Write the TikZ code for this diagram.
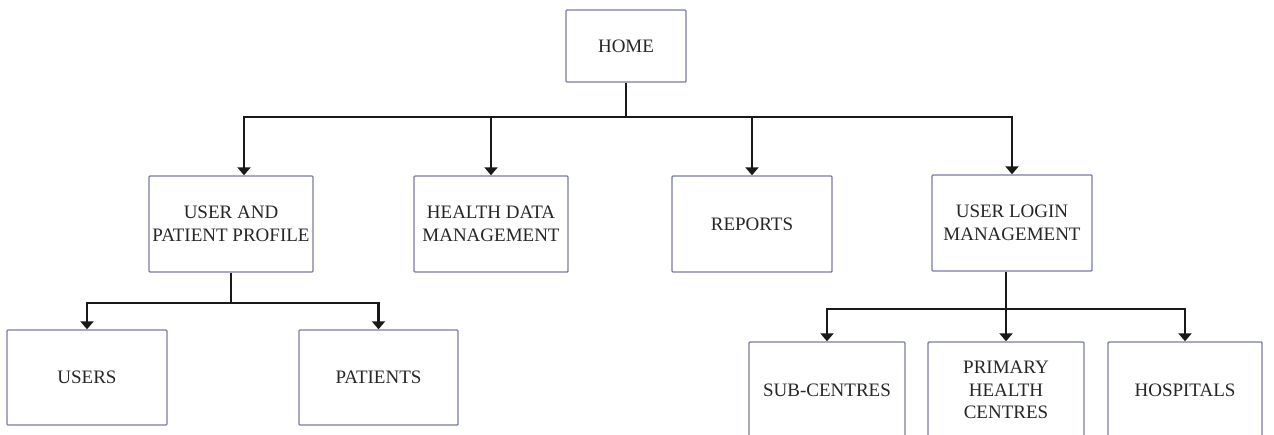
\documentclass[tikz,border=0pt]{standalone}
\usepackage{fontspec}
\setmainfont{Liberation Serif}
\usetikzlibrary{arrows.meta}
\definecolor{boxc}{RGB}{120,125,158}
\begin{document}
\begin{tikzpicture}[x=1pt,y=-1pt,
  box/.style={draw=boxc, line width=1.4pt, rounded corners=1pt, inner sep=0pt, align=center,
    minimum height=96pt, text=black!85, font=\fontsize{19}{22.5}\selectfont},
  conn/.style={line width=2.9pt, draw=black!90},
  arr/.style={conn, -{Triangle[width=13pt,length=8pt]}}]
\clip (0,0) rectangle (1274,434);
\useasboundingbox (0,0) rectangle (1274,434);
\node[box, minimum width=120pt, minimum height=72pt] (home) at (626,46) {HOME};
\node[box, minimum width=164pt] (uapp) at (231,224) {USER AND\\PATIENT PROFILE};
\node[box, minimum width=154pt] (hd) at (491,224) {HEALTH DATA\\MANAGEMENT};
\node[box, minimum width=160pt] (rep) at (752,224) {REPORTS};
\node[box, minimum width=160pt] (ulm) at (1012,223) {USER LOGIN\\MANAGEMENT};
\node[box, minimum width=160pt, minimum height=95pt] (users) at (87,377.5) {USERS};
\node[box, minimum width=159pt, minimum height=95pt] (pat) at (378.5,377.5) {PATIENTS};
\node[box, minimum width=156pt] (sub) at (827,390) {SUB-CENTRES};
\node[box, minimum width=156pt] (prim) at (1006,390) {PRIMARY\\HEALTH\\CENTRES};
\node[box, minimum width=154pt] (hosp) at (1185,390) {HOSPITALS};
\coordinate (j1) at (626,117);
\coordinate (j2) at (231,303);
\coordinate (j3) at (1006,309);
\draw[conn] (home.south) -- (j1);
\draw[arr] (j1) -| ([xshift=13pt]uapp.north);
\draw[arr] (j1) -| (hd.north);
\draw[arr] (j1) -| (rep.north);
\draw[arr] (j1) -| (ulm.north);
\draw[conn] (uapp.south) -- (j2);
\draw[arr] (j2) -| (users.north);
\draw[arr] (j2) -| (pat.north);
\draw[conn] (ulm.south -| j3) -- (j3);
\draw[arr] (j3) -| (sub.north);
\draw[arr] (j3) -- (prim.north);
\draw[arr] (j3) -| (hosp.north);
\end{tikzpicture}
\end{document}
